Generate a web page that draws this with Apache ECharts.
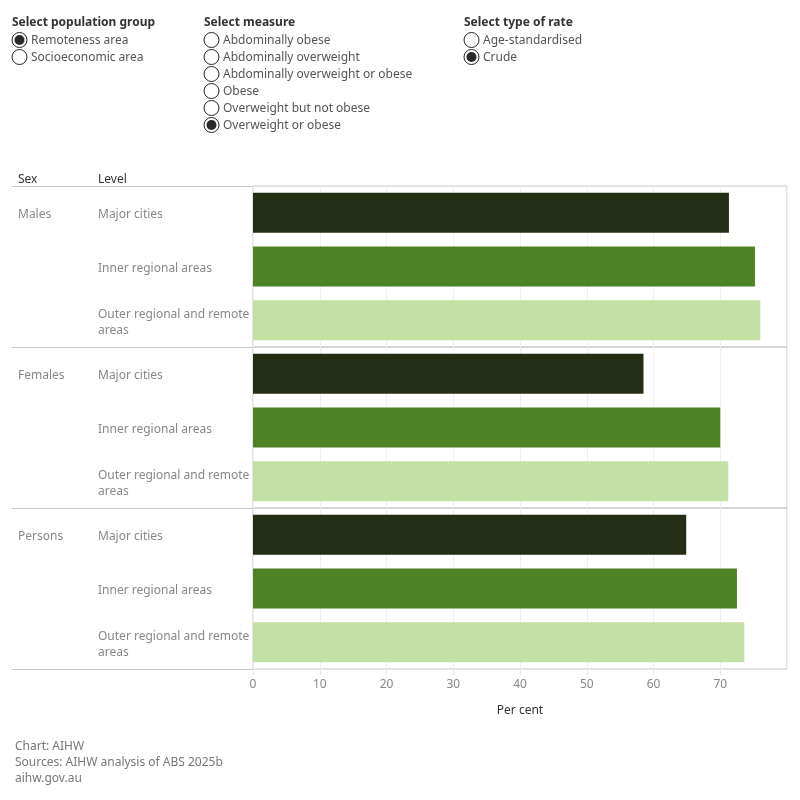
<!DOCTYPE html>
<html lang="en">
<head>
<meta charset="UTF-8">
<title>Overweight or obese by remoteness</title>
<style>
  body { margin: 0; padding: 0; background: #fff; }
  #main { width: 800px; height: 800px; }
</style>
</head>
<body>
<div id="main"></div>
<script src="https://cdn.jsdelivr.net/npm/echarts@6/dist/echarts.min.js"></script>
<script>
// categories
var sexes = ['Males', 'Females', 'Persons'];
var levels = ['Major cities', 'Inner regional areas', 'Outer regional and remote areas'];
// crude rate, overweight or obese (per cent)
var males = [71.3, 75.2, 76.0];
var females = [58.5, 70.0, 71.2];
var persons = [64.9, 72.5, 73.6];
var seriesData = [males, females, persons];
// x axis
var xMin = 0, xMax = 80, xStep = 10;
// controls
var popGroups = ['Remoteness area', 'Socioeconomic area'];
var measures = ['Abdominally obese', 'Abdominally overweight', 'Abdominally overweight or obese',
  'Obese', 'Overweight but not obese', 'Overweight or obese'];
var rateTypes = ['Age-standardised', 'Crude'];
var footer = ['Chart: AIHW', 'Sources: AIHW analysis of ABS 2025b', 'aihw.gov.au'];

var levelColors = ['#232e15', '#4e8226', '#c3e1a5'];
var font = 'Noto Sans';

var chart = echarts.init(document.getElementById('main'));

// layout
var plotLeft = 253, plotRight = 787, top0 = 186, panelH = 161;

// small downward nudge for the row labels
var labelRich = { t: { color: '#888', fontSize: 12, fontFamily: font, lineHeight: 16, padding: [4, 0, 0, 0] } };

var grids = [], xAxes = [], yAxes = [], series = [];
sexes.forEach(function (sex, i) {
  var last = i === sexes.length - 1;
  grids.push({
    left: plotLeft, width: plotRight - plotLeft,
    top: top0 + i * panelH, height: panelH,
    show: true, borderColor: '#c8c8c8', borderWidth: 1
  });
  xAxes.push({
    gridIndex: i, type: 'value', min: xMin, max: xMax, interval: xStep,
    axisLine: { show: false },
    axisTick: { show: last, length: 6, lineStyle: { color: '#e4e4e4' } },
    axisLabel: {
      show: last, color: '#888', fontSize: 12, fontFamily: font, margin: 10,
      showMaxLabel: false
    },
    splitLine: { show: true, lineStyle: { color: '#efefef' } },
    name: last ? 'Per cent' : '',
    nameLocation: 'middle', nameGap: 36,
    nameTextStyle: { color: '#333', fontSize: 12, fontFamily: font }
  });
  yAxes.push({
    gridIndex: i, type: 'category', data: levels, inverse: true,
    axisLine: { show: false }, axisTick: { show: false },
    axisLabel: {
      align: 'left', margin: plotLeft - 98, rich: labelRich,
      formatter: function (v) {
        return v.replace('and remote ', 'and remote\n').split('\n')
          .map(function (s) { return '{t|' + s + '}'; }).join('\n');
      }
    }
  });
  yAxes.push({
    gridIndex: i, type: 'category', data: levels, inverse: true, position: 'left',
    axisLine: { show: false }, axisTick: { show: false },
    axisLabel: {
      align: 'left', margin: plotLeft - 18, rich: labelRich,
      formatter: function (v, idx) { return idx === 0 ? '{t|' + sex + '}' : ''; }
    }
  });
  series.push({
    type: 'bar', name: sex, xAxisIndex: i, yAxisIndex: i * 2,
    data: seriesData[i], barWidth: 40,
    itemStyle: { color: function (p) { return levelColors[p.dataIndex]; } }
  });
});

// decorations: headers, separators, controls, footer
var graphic = [];
[top0, top0 + panelH, top0 + 2 * panelH, top0 + 3 * panelH].forEach(function (y) {
  graphic.push({ type: 'line', shape: { x1: 12, y1: y + 0.5, x2: plotLeft, y2: y + 0.5 },
    style: { stroke: '#c8c8c8', lineWidth: 1 } });
});
graphic.push({ type: 'text', left: 18, top: 174, style: { text: 'Sex', fill: '#333', font: '12px ' + font } });
graphic.push({ type: 'text', left: 98, top: 174, style: { text: 'Level', fill: '#333', font: '12px ' + font } });

function radioGroup(x, title, items, selected) {
  graphic.push({ type: 'text', left: x, top: 17,
    style: { text: title, fill: '#333', font: 'bold 12px ' + font } });
  items.forEach(function (t, k) {
    var cy = 40 + k * 17;
    graphic.push({ type: 'circle', shape: { cx: x + 7.5, cy: cy, r: 7.5 },
      style: { fill: '#fff', stroke: '#222', lineWidth: 1 } });
    if (k === selected) {
      graphic.push({ type: 'circle', shape: { cx: x + 7.5, cy: cy, r: 5 },
        style: { fill: '#2a2a2a' } });
    }
    graphic.push({ type: 'text', left: x + 19, top: cy - 5,
      style: { text: t, fill: '#555', font: '12px ' + font } });
  });
}
radioGroup(12, 'Select population group', popGroups, 0);
radioGroup(204, 'Select measure', measures, 5);
radioGroup(464, 'Select type of rate', rateTypes, 1);

footer.forEach(function (t, k) {
  graphic.push({ type: 'text', left: 15, top: 741 + k * 16,
    style: { text: t, fill: '#777', font: '12px ' + font } });
});

chart.setOption({
  animation: false,
  textStyle: { fontFamily: font },
  grid: grids,
  xAxis: xAxes,
  yAxis: yAxes,
  series: series,
  graphic: graphic
});
</script>
</body>
</html>
